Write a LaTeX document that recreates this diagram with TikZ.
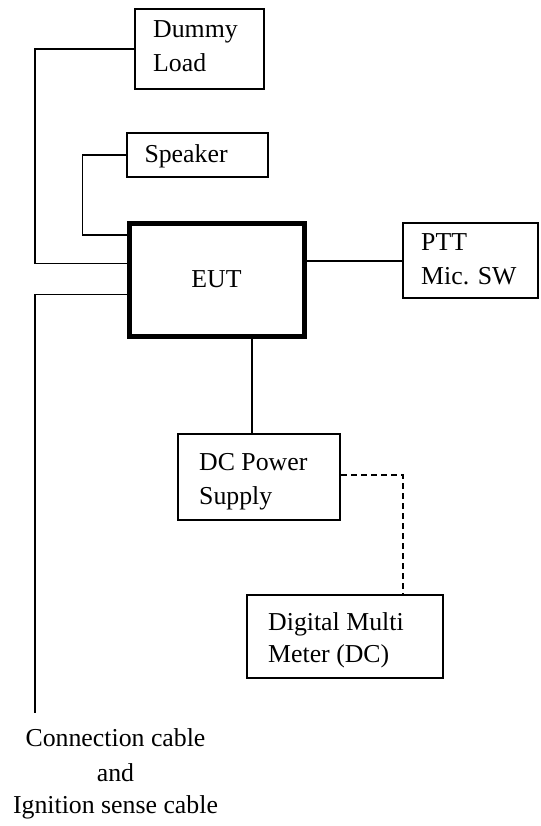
\documentclass[tikz,border=0pt]{standalone}
\usepackage{fontspec}
\setmainfont{Liberation Serif}
\begin{document}
\begin{tikzpicture}[x=1pt,y=-1pt,
  box/.style={draw,line width=2pt,inner sep=0pt},
  thickbox/.style={draw,line width=5pt,inner sep=0pt},
  wire/.style={line width=1.6pt},
  dashwire/.style={line width=1.6pt,dash pattern=on 6pt off 4pt},
  lbl/.style={inner sep=0pt,font=\fontsize{25.8}{33}\selectfont}]
\useasboundingbox (0,0) rectangle (540,826);
% boxes
\node[box,minimum width=129pt,minimum height=80pt] (dummy) at (199.5,49) {};
\node[box,minimum width=141pt,minimum height=44pt] (speaker) at (197.5,155) {};
\node[box,minimum width=135pt,minimum height=75pt] (ptt) at (470.5,260.7) {};
\node[box,minimum width=162pt,minimum height=86pt] (dc) at (259,477) {};
\node[box,minimum width=196pt,minimum height=83pt] (dmm) at (345,636.5) {};
\coordinate (lbus) at (35,0);
\coordinate (sbus) at (82.6,0);
\coordinate (cableend) at (35,713);
% connectors
\node[thickbox,minimum width=175pt,minimum height=113pt] (eut) at (216.5,280) {};
\draw[wire] (dummy.west) -- (dummy.west -| lbus) |- ([yshift=16.4pt]eut.west);
\draw[wire] (speaker.west) -- (speaker.west -| sbus) |- ([yshift=45.3pt]eut.west);
\draw[wire] ([yshift=-14.6pt]eut.west) -| (cableend);
\draw[wire] (ptt.west) -- (ptt.west -| eut.east);
\draw[wire] ([xshift=-7.3pt]dc.north) -- ([xshift=-7.3pt]dc.north |- eut.south);
\draw[dashwire] ([yshift=2pt]dc.east) -| ([xshift=57.7pt]dmm.north);
% texts
\node[lbl,anchor=base west] (t1) at (153,37.3) {Dummy};
\node[lbl,anchor=base west] (t2) at (153,71.7) {Load};
\node[lbl,anchor=base west] (t3) at (144.3,162.7) {Speaker};
\node[lbl,anchor=base] (t4) at (216.5,287.7) {EUT};
\node[lbl,anchor=base west] (t5) at (421,250.7) {PTT};
\node[lbl,anchor=base west] (t6) at (421,284) {Mic. SW};
\node[lbl,anchor=base west] (t7) at (199,470) {DC Power};
\node[lbl,anchor=base west] (t8) at (199,504) {Supply};
\node[lbl,anchor=base west] (t9) at (268,630) {Digital Multi};
\node[lbl,anchor=base west] (t10) at (268,662) {Meter (DC)};
\node[lbl,anchor=base] (c1) at (115.5,746.7) {Connection cable};
\node[lbl,anchor=base] (c2) at (115.5,781.7) {and};
\node[lbl,anchor=base] (c3) at (115.5,813) {Ignition sense cable};
\end{tikzpicture}
\end{document}
